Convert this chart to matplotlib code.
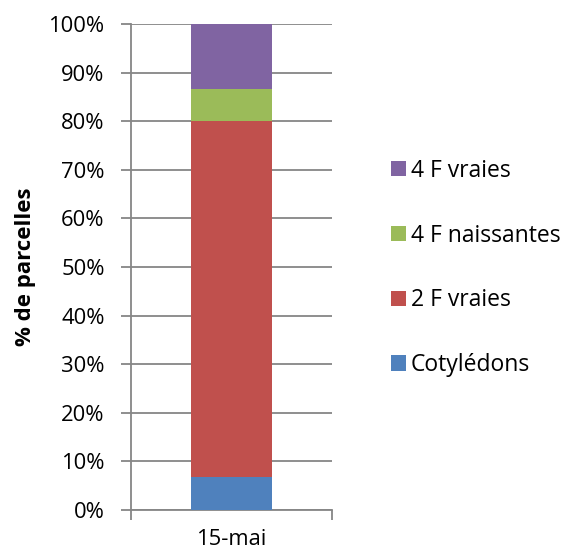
import matplotlib
matplotlib.use("Agg")
import matplotlib.pyplot as plt
from matplotlib.ticker import PercentFormatter

plt.rcParams["font.family"] = ["Open Sans", "DejaVu Sans"]

dates = ["15-mai"]
stades = ["Cotylédons", "2 F vraies", "4 F naissantes", "4 F vraies"]
parts = [6.67, 73.33, 6.67, 13.33]  # % de parcelles
couleurs = ["#4F81BD", "#C0504D", "#9BBB59", "#8064A2"]

GRID = "#868686"

fig = plt.figure(figsize=(5.63, 5.54), dpi=100)
ax = fig.add_axes([0.2327, 0.0803, 0.357, 0.8755])

bas = 0
for stade, v, c in zip(stades, parts, couleurs):
    ax.bar(dates, [v], bottom=bas, width=0.4, color=c, label=stade, zorder=3)
    bas += v

ax.set_xlim(-0.5, 0.5)
ax.set_ylim(0, 100)
ax.set_yticks(range(0, 101, 10))
ax.yaxis.set_major_formatter(PercentFormatter(decimals=0))
ax.grid(axis="y", color=GRID, lw=1.3, zorder=0)
ax.set_axisbelow(True)

for s in ["top", "right"]:
    ax.spines[s].set_visible(False)
for s in ["left", "bottom"]:
    ax.spines[s].set_color(GRID)
    ax.spines[s].set_linewidth(1.3)

ax.tick_params(axis="y", length=7, width=1.3, color=GRID, pad=12, labelsize=15.8)
ax.set_xticks([-0.5, 0.5], minor=True)
ax.tick_params(axis="x", which="minor", length=7, width=1.3, color=GRID, direction="out")
ax.tick_params(axis="x", which="major", length=0, pad=14, labelsize=15.8)

ax.set_ylabel("% de parcelles", fontsize=16, fontweight="bold", labelpad=9)

h, l = ax.get_legend_handles_labels()
ax.legend(h[::-1], l[::-1], loc="center left", bbox_to_anchor=(1.294, 0.498),
          frameon=False, fontsize=16.5, handlelength=0.65, handleheight=0.65,
          handletextpad=0.22, labelspacing=1.78, borderaxespad=0, borderpad=0)

fig.savefig("out.png", dpi=100)
